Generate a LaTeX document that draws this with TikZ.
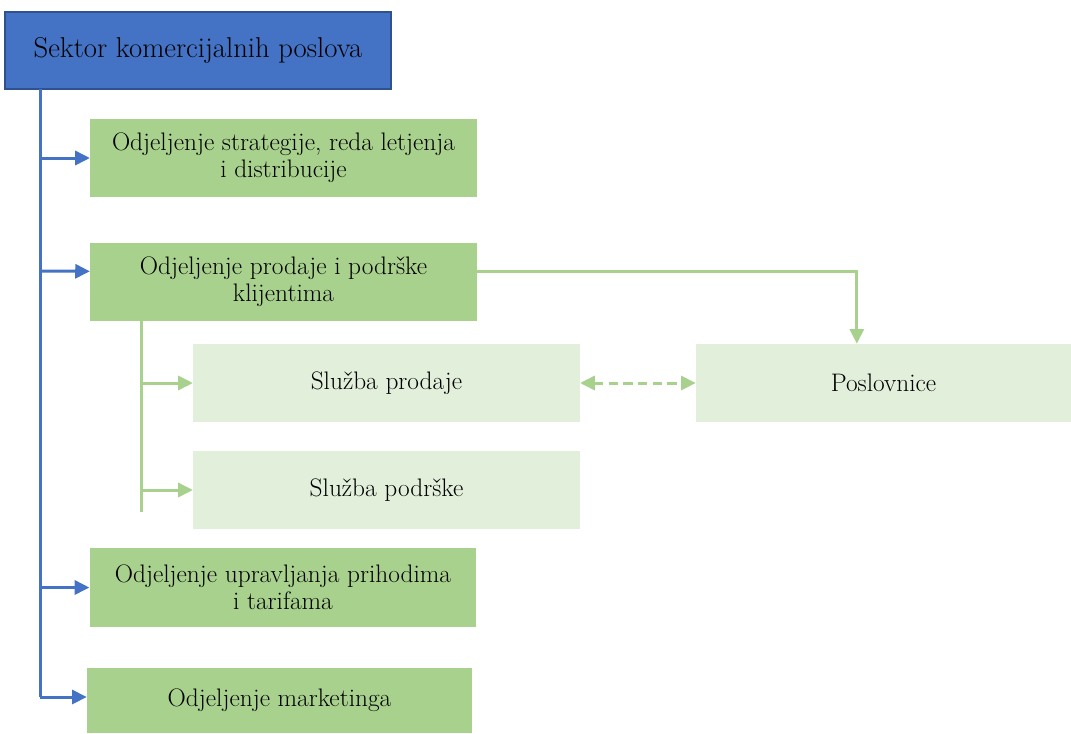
\documentclass[tikz,border=0pt]{standalone}
\usepackage{tikz}
\usetikzlibrary{arrows.meta, positioning}
\definecolor{hdrblue}{HTML}{4472C4}
\definecolor{hdrline}{HTML}{2F528F}
\definecolor{midgreen}{HTML}{A9D18E}
\definecolor{palegreen}{HTML}{E2EFDA}

\begin{document}
\begin{tikzpicture}[x=0.75pt, y=-0.75pt,
  tip/.style={-{Triangle[length=11pt, width=10.5pt]}},
  box/.style={rectangle, minimum width=290pt, minimum height=58.5pt, align=center, inner sep=2pt, font=\fontsize{19}{20.5}\selectfont},
  dept/.style={box, fill=midgreen},
  unit/.style={box, fill=palegreen},
  blueline/.style={draw=hdrblue, line width=2.25pt},
  greenline/.style={draw=midgreen, line width=2.25pt}]
\useasboundingbox (0,0) rectangle (1071,733);
% sector
\node[box, fill=hdrblue, draw=hdrline, line width=0.8pt, minimum width=289.5pt, minimum height=57.75pt, font=\fontsize{21.5}{24}\selectfont] (s) at (198,50.5) {Sektor komercijalnih poslova};
% departments
\node[dept] (o1) at (283.5,158) {Odjeljenje strategije, reda letjenja\\i distribucije};
\node[dept] (o2) at (283.5,282) {Odjeljenje prodaje i podrške\\klijentima};
\node[dept, minimum height=59.25pt] (o3) at (283,587.5) {Odjeljenje upravljanja prihodima\\i tarifama};
\node[dept, minimum width=288.75pt, minimum height=48.75pt] (o4) at (279.5,700.5) {Odjeljenje marketinga};
% services
\node[unit] (sp) at (386.5,383) {Služba prodaje};
\node[unit] (spod) at (386.5,490) {Služba podrške};
\node[unit, minimum width=281.25pt] (posl) at (883.5,383) {Poslovnice};
% blue trunk
\coordinate (b0) at (40,89);
\coordinate (b1) at (40,697);
\draw[blueline] (b0) -- (b1);
\draw[blueline, tip] (b0 |- o1.west) -- (o1.west);
\draw[blueline, tip] (b0 |- o2.west) ++(0,-11) -- ([yshift=8pt]o2.west);
\draw[blueline, tip] (b0 |- o3.west) -- (o3.west);
\draw[blueline, tip] (b1) -- (b1 -| o4.west);
% green trunk
\coordinate (g0) at (141,321);
\coordinate (g1) at (141,512);
\draw[greenline] (g0) -- (g1);
\draw[greenline, tip] (g0 |- sp.west) -- (sp.west);
\draw[greenline, tip] (g0 |- spod.west) -- (spod.west);
\draw[greenline, tip] ([yshift=8pt]o2.east) -| ([xshift=-20pt]posl.north);
\draw[greenline, dash pattern=on 7pt off 4pt, {Triangle[length=11pt, width=10.5pt]}-{Triangle[length=11pt, width=10.5pt]}] (sp.east) -- (posl.west);
\end{tikzpicture}
\end{document}
